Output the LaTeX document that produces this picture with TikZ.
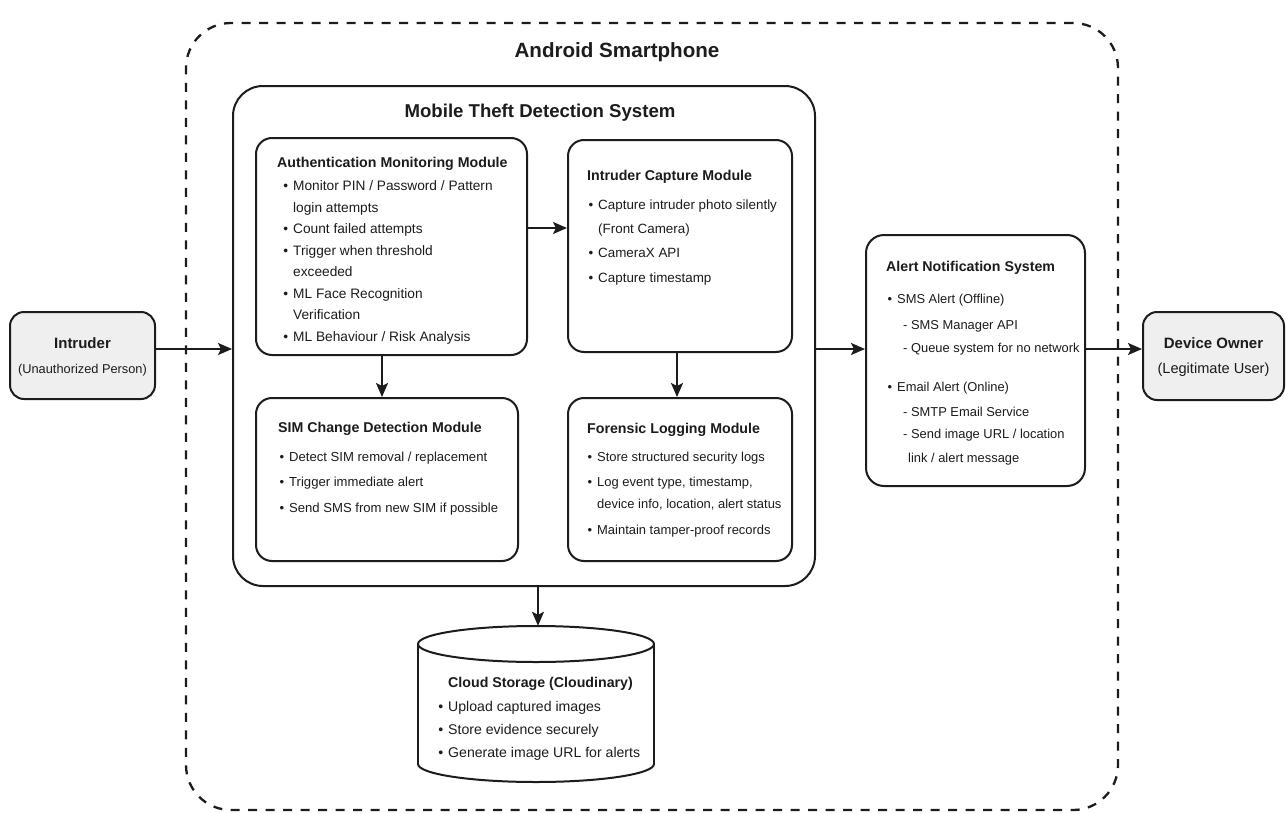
\documentclass[tikz,border=0pt]{standalone}
\usepackage{fontspec}
\setmainfont{Liberation Sans}
\usetikzlibrary{arrows.meta,fit}
\definecolor{ink}{HTML}{1C1C1C}
\definecolor{pale}{HTML}{EFEFEF}
\newcommand\bu{\llap{\textbullet\hspace{5pt}}}
\begin{document}
\begin{tikzpicture}[x=1pt,y=-1pt,
  line/.style={draw=ink, line width=2pt},
  box/.style={line, rounded corners=#1, fill=white, inner sep=0pt},
  box/.default=16pt,
  actor/.style={line, rounded corners=14pt, fill=pale, inner sep=0pt},
  arr/.style={draw=ink, line width=2pt, -{Stealth[length=14pt,width=12pt,inset=3pt]}},
  ttl/.style={anchor=base west, inner sep=0pt, yshift=-5pt, text=ink, font=\bfseries\fontsize{14.2}{17}\selectfont},
  txt/.style={anchor=base west, inner sep=0pt, yshift=-4.5pt, text=ink, font=\fontsize{#1}{17}\selectfont},
  txt/.default=13.3,
  big/.style={inner sep=0pt, text=ink, font=\bfseries\fontsize{#1}{22}\selectfont},
  sub/.style={inner sep=0pt, text=ink, font=\fontsize{#1}{16}\selectfont}
]
\useasboundingbox (0,0) rectangle (1286,814);

% containers
\node[line, dashed, dash pattern=on 9pt off 8.5pt, line width=2.3pt, rounded corners=45pt, inner sep=0pt, fit={(186,23) (1118,810)}] (phone) {};
\node[big=20.6] (phonet) at (617,52) {Android Smartphone};
\node[box=30pt, fit={(233,86) (815,586)}] (mtds) {};
\node[big=18.6] (mtdst) at (540,113) {Mobile Theft Detection System};

% modules
\node[box, fit={(256,138) (527,355)}] (auth) {};
\node[box, fit={(568,140) (792,352)}] (cap) {};
\node[box, fit={(256,398) (518,561)}] (sim) {};
\node[box, fit={(568,398) (792,561)}] (for) {};
\node[box=18pt, fit={(866,235) (1085,486)}] (alert) {};

\node[ttl] (autht) at (277,162) {Authentication Monitoring Module};
\foreach \ly/\lt [count=\i] in {186/{\bu Monitor PIN / Password / Pattern},208/{login attempts},229/{\bu Count failed attempts},251/{\bu Trigger when threshold},272/{exceeded},294/{\bu ML Face Recognition},315/{Verification},337/{\bu ML Behaviour / Risk Analysis}}
  \node[txt=13.7] (auth-\i) at (293,\ly) {\lt};

\node[ttl] (capt) at (587,175) {Intruder Capture Module};
\foreach \ly/\lt [count=\i] in {205/{\bu Capture intruder photo silently},229/{(Front Camera)},253/{\bu CameraX API},278/{\bu Capture timestamp}}
  \node[txt=13.4] (cap-\i) at (598,\ly) {\lt};

\node[ttl] (simt) at (278,427) {SIM Change Detection Module};
\foreach \ly/\lt [count=\i] in {457/{\bu Detect SIM removal / replacement},482/{\bu Trigger immediate alert},508/{\bu Send SMS from new SIM if possible}}
  \node[txt=13.1] (sim-\i) at (289,\ly) {\lt};

\node[ttl] (fort) at (587,428) {Forensic Logging Module};
\foreach \ly/\lt [count=\i] in {457/{\bu Store structured security logs},482/{\bu Log event type, timestamp,},504/{device info, location, alert status},530/{\bu Maintain tamper-proof records}}
  \node[txt=12.95] (for-\i) at (597,\ly) {\lt};

\node[ttl] (alertt) at (886,266) {Alert Notification System};
\foreach \lx/\ly/\lt [count=\i] in {897/299/{\bu SMS Alert (Offline)},903/325/{- SMS Manager API},903/348/{- Queue system for no network},897/387/{\bu Email Alert (Online)},903/412/{- SMTP Email Service},903/434/{- Send image URL / location},908/458/{link / alert message}}
  \node[txt=12.9] (alert-\i) at (\lx,\ly) {\lt};

% cloud storage cylinder
\node[inner sep=0pt, fit={(418,626) (654,782)}] (cloud) {};
\draw[line] (536,764) ellipse [x radius=118, y radius=18];
\fill[white] (419,644) rectangle (653,764);
\draw[line] (418,644) -- (418,764) (654,644) -- (654,764);
\draw[line, fill=white] (536,644) ellipse [x radius=118, y radius=18];
\node[ttl] (cloudt) at (448,682) {Cloud Storage (Cloudinary)};
\foreach \ly/\lt [count=\i] in {707/{\bu Upload captured images},730/{\bu Store evidence securely},753/{\bu Generate image URL for alerts}}
  \node[txt=14.1] (cloud-\i) at (448,\ly) {\lt};

% actors
\node[actor, fit={(10,312) (155,399)}] (intr) {};
\node[big=15] (intrt) at (82.5,343) {Intruder};
\node[sub=12.8] (intrs) at (82.5,370) {(Unauthorized Person)};
\node[actor, fit={(1143,312) (1284,400)}] (owner) {};
\node[big=15] (ownert) at (1213.5,343) {Device Owner};
\node[sub=14.6] (owners) at (1213.5,370) {(Legitimate User)};

% connectors
\coordinate (ya) at (0,349);
\coordinate (yb) at (0,228);
\coordinate (xa) at (382,0);
\coordinate (xb) at (677,0);
\coordinate (xc) at (538,0);
\draw[arr] (intr.east |- ya) -- (mtds.west |- ya);
\draw[arr] (auth.east |- yb) -- (cap.west |- yb);
\draw[arr] (auth.south -| xa) -- (sim.north -| xa);
\draw[arr] (cap.south -| xb) -- (for.north -| xb);
\draw[arr] (mtds.south -| xc) -- (cloud.north -| xc);
\draw[arr] (mtds.east |- ya) -- (alert.west |- ya);
\draw[arr] (alert.east |- ya) -- (owner.west |- ya);
\end{tikzpicture}
\end{document}
